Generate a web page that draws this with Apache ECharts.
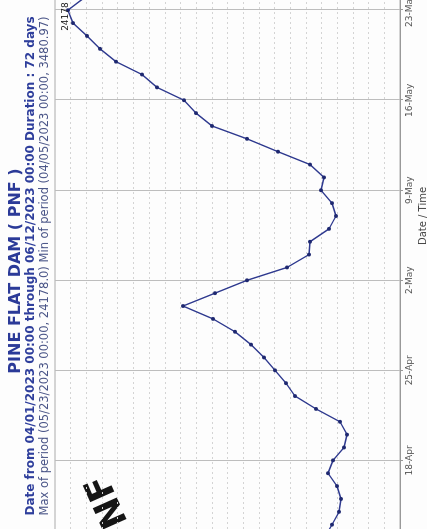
<!DOCTYPE html>
<html>
<head>
<meta charset="utf-8">
<script src="https://cdn.jsdelivr.net/npm/echarts@6/dist/echarts.min.js"></script>
<style>
html,body{margin:0;padding:0;width:427px;height:529px;overflow:hidden;background:#fdfdfd;}
#wrap{position:absolute;left:0;top:0;width:1010px;height:427px;transform-origin:0 0;transform:translate(0px,739px) rotate(-90deg);}
</style>
</head>
<body>
<div id="wrap"></div>
<script>
// Category axis: one entry per day, 04/01/2023 .. 06/12/2023
const categories = [
 '1-Apr','2-Apr','3-Apr','4-Apr','5-Apr','6-Apr','7-Apr','8-Apr','9-Apr','10-Apr',
 '11-Apr','12-Apr','13-Apr','14-Apr','15-Apr','16-Apr','17-Apr','18-Apr','19-Apr','20-Apr',
 '21-Apr','22-Apr','23-Apr','24-Apr','25-Apr','26-Apr','27-Apr','28-Apr','29-Apr','30-Apr',
 '1-May','2-May','3-May','4-May','5-May','6-May','7-May','8-May','9-May','10-May',
 '11-May','12-May','13-May','14-May','15-May','16-May','17-May','18-May','19-May','20-May',
 '21-May','22-May','23-May','24-May','25-May','26-May','27-May','28-May','29-May','30-May','31-May',
 '1-Jun','2-Jun','3-Jun','4-Jun','5-Jun','6-Jun','7-Jun','8-Jun','9-Jun','10-Jun','11-Jun','12-Jun'
];
// Tick labels shown on the date axis
const tickLabels = ['4-Apr','11-Apr','18-Apr','25-Apr','2-May','9-May','16-May','23-May','30-May','6-Jun'];

// Readings (dates and values)
const flowDates = [
 '5-Apr','12-Apr','13-Apr','14-Apr','15-Apr','16-Apr','17-Apr','18-Apr','19-Apr','20-Apr',
 '21-Apr','22-Apr','23-Apr','24-Apr','25-Apr','26-Apr','27-Apr','28-Apr','29-Apr','30-Apr',
 '1-May','2-May','3-May','4-May','5-May','6-May','7-May','8-May','9-May','10-May',
 '11-May','12-May','13-May','14-May','15-May','16-May','17-May','18-May','19-May','20-May',
 '21-May','22-May','23-May','24-May'
];
const flowValues = [
 3480.97, 7800, 7336, 6889, 6762, 7017, 7591, 7272, 6570, 6379,
 6826, 8356, 9695, 10269, 10971, 11672, 12501, 13521, 14924, 16837,
 14797, 12756, 10205, 8802, 8739, 7527, 7081, 7336, 8037, 7846,
 8739, 10779, 12756, 14988, 16008, 16774, 18495, 19452, 21110, 22130,
 22959, 23852, 24178, 23100
];
const peakDate = '23-May';
const peakLabel = '24178';

const titleText = 'PINE FLAT DAM ( PNF )';
const subText1 = 'Date from 04/01/2023 00:00 through 06/12/2023 00:00 Duration : 72 days';
const subText2 = 'Max of period (05/23/2023 00:00, 24178.0) Min of period (04/05/2023 00:00, 3480.97)';

const tickSet = new Set(tickLabels);

const seriesData = flowDates.map((d, i) => {
  const item = { value: [d, flowValues[i]] };
  if (d === peakDate) {
    item.label = { show: true, formatter: peakLabel, position: 'left', distance: 2, offset: [12, -2],
      color: '#222', fontSize: 9, fontFamily: 'DejaVu Sans' };
  }
  return item;
});

const chart = echarts.init(document.getElementById('wrap'), null, { renderer: 'canvas' });
chart.setOption({
  backgroundColor: '#fdfdfd',
  animation: false,
  title: [
    { text: titleText, left: 468, top: 8, textAlign: 'center', padding: 0,
      textStyle: { fontSize: 16, fontWeight: 'bold', color: '#2b3a98', fontFamily: 'DejaVu Sans' } },
    { text: subText1, left: 473, top: 25, textAlign: 'center', padding: 0,
      textStyle: { fontSize: 12, fontWeight: 'bold', color: '#2f3f9c', fontFamily: 'DejaVu Sans' } },
    { text: subText2, left: 473, top: 39, textAlign: 'center', padding: 0,
      textStyle: { fontSize: 11.5, fontWeight: 'normal', color: '#4b5688', fontFamily: 'DejaVu Sans' } }
  ],
  grid: { left: 60, right: 24, top: 55, bottom: 27, show: true, borderColor: '#aaa', borderWidth: 1,
    containLabel: false, outerBoundsMode: 'none' },
  xAxis: {
    type: 'category', data: categories, boundaryGap: false,
    name: 'Date / Time', nameLocation: 'middle', nameGap: 16,
    nameTextStyle: { fontSize: 10, color: '#444', fontFamily: 'DejaVu Sans' },
    axisLine: { lineStyle: { color: '#999' } },
    axisTick: { interval: (i, v) => tickSet.has(v), length: 3, lineStyle: { color: '#999' } },
    axisLabel: { interval: (i, v) => tickSet.has(v), fontSize: 9, color: '#555', margin: 5, fontFamily: 'DejaVu Sans' },
    splitLine: { show: true, interval: (i, v) => tickSet.has(v), lineStyle: { color: '#bdbdbd', width: 1 } }
  },
  yAxis: {
    type: 'value', min: 3000, max: 25000, interval: 1000,
    axisLine: { show: false }, axisTick: { show: false },
    axisLabel: { fontSize: 9, color: '#555' },
    splitLine: { show: true, lineStyle: { color: '#d4d4d4', type: [2, 3] } }
  },
  series: [{
    type: 'line', data: seriesData, connectNulls: true,
    symbol: 'circle', symbolSize: 4, showSymbol: true,
    lineStyle: { color: '#2f3a8f', width: 1.4 },
    itemStyle: { color: '#1e2870' }
  }],
  graphic: [{
    type: 'text', x: 227, y: 113, rotation: 0.42,
    style: { text: 'FNF', fontSize: 36, fontWeight: 'bold', fill: '#151515',
      fontFamily: 'DejaVu Sans', textAlign: 'center', textVerticalAlign: 'middle' }
  }]
});
</script>
</body>
</html>
